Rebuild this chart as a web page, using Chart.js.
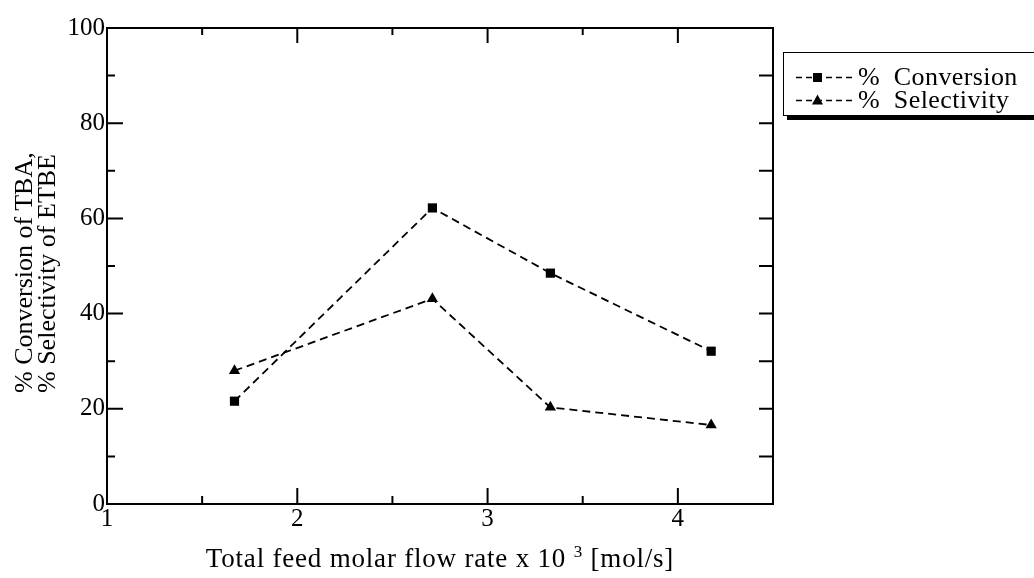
<!DOCTYPE html>
<html><head><meta charset="utf-8">
<script src="https://cdn.jsdelivr.net/npm/chart.js@4"></script>
<style>
html,body{margin:0;padding:0;background:#fff;overflow:hidden;}
#wrap{position:relative;width:1034px;height:578px;overflow:hidden;}
canvas{position:absolute;left:0;top:0;}
.serif{font-family:"Liberation Serif","Times New Roman",serif;color:#000;}
#xt{position:absolute;left:140px;width:600px;top:543px;text-align:center;font-size:27px;line-height:30px;letter-spacing:0.8px;white-space:nowrap;}
#xt sup{font-size:17px;vertical-align:10px;line-height:0;}
#yt{position:absolute;width:300px;height:46px;left:-115px;top:220px;transform:rotate(-90deg);font-size:26px;line-height:23px;text-align:left;white-space:nowrap;}
#legend{position:absolute;left:783px;top:52px;width:300px;height:62px;border:1.5px solid #000;box-shadow:4px 4px 0 #000;background:#fff;}
.row{position:absolute;left:10px;height:24px;display:flex;align-items:center;font-size:26px;letter-spacing:0.4px;white-space:nowrap;}
.row svg{margin-right:4px;}
</style>
</head><body>
<div id="wrap">
<canvas id="c" width="1034" height="578"></canvas>
<div id="yt" class="serif">% Conversion of TBA,<br>% Selectivity of ETBE</div>
<div id="xt" class="serif">Total feed molar flow rate x 10 <sup>3</sup> [mol/s]</div>
<div id="legend" class="serif"></div>
</div>
<script>
// ---- data ----
const xValues = [1.67, 2.71, 3.33, 4.175];
const conversion = [21.6, 62.2, 48.5, 32.1];
const selectivity = [28.0, 43.1, 20.3, 16.6];
const seriesNames = ['% Conversion', '% Selectivity'];
const xTickValues = [1, 2, 3, 4];
const yTickValues = [0, 20, 40, 60, 80, 100];
const xRange = [1, 4.5];
const yRange = [0, 100];

const FONT = '"Liberation Serif","Times New Roman",serif';

function pairs(ys){ return xValues.map((x,i)=>({x:x,y:ys[i]})); }

const datasets = [
  {label: seriesNames[0], data: pairs(conversion), pointStyle:'rect'},
  {label: seriesNames[1], data: pairs(selectivity), pointStyle:'triangle'}
].map(d => Object.assign(d, {
  borderColor:'#000', backgroundColor:'#000', borderWidth:1.8,
  borderDash:[8,5], pointRadius:6.5, pointBorderWidth:0,
  pointBackgroundColor:'#000', tension:0, showLine:true, fill:false
}));

const framePlugin = {
  id:'frame',
  afterDraw(chart){
    const ctx = chart.ctx, a = chart.chartArea;
    const xs = chart.scales.x, ys = chart.scales.y;
    ctx.save();
    ctx.strokeStyle = '#000';
    ctx.lineWidth = 2;
    ctx.strokeRect(a.left, a.top, a.right - a.left, a.bottom - a.top);
    ctx.beginPath();
    for (let v = xRange[0]; v <= xRange[1] + 1e-9; v += 0.5) {
      const px = xs.getPixelForValue(v);
      const major = xTickValues.includes(v);
      const lb = major ? 16 : 8, lt = major ? 15 : 7;
      ctx.moveTo(px, a.bottom); ctx.lineTo(px, a.bottom - lb);
      ctx.moveTo(px, a.top); ctx.lineTo(px, a.top + lt);
    }
    for (let v = yRange[0]; v <= yRange[1] + 1e-9; v += 10) {
      const py = ys.getPixelForValue(v);
      const major = yTickValues.includes(v);
      ctx.moveTo(a.left, py); ctx.lineTo(a.left + (major ? 16 : 8), py);
      ctx.moveTo(a.right, py); ctx.lineTo(a.right - 14, py);
    }
    ctx.stroke();
    ctx.restore();
  }
};

new Chart(document.getElementById('c'), {
  type:'line',
  data:{datasets:datasets},
  options:{
    responsive:false, animation:false, devicePixelRatio:1,
    layout:{padding:{top:28, right:261, left:0, bottom:0}},
    plugins:{legend:{display:false}, tooltip:{enabled:false}},
    scales:{
      x:{type:'linear', min:xRange[0], max:xRange[1],
        afterFit(s){ s.height = 74; },
        grid:{display:false, drawTicks:false}, border:{display:false},
        afterBuildTicks(s){ s.ticks = xTickValues.map(v=>({value:v})); },
        ticks:{color:'#000', font:{family:FONT, size:25}, padding:0, maxRotation:0, autoSkip:false}
      },
      y:{type:'linear', min:yRange[0], max:yRange[1],
        afterFit(s){ s.width = 107; },
        grid:{display:false, drawTicks:false}, border:{display:false},
        afterBuildTicks(s){ s.ticks = yTickValues.map(v=>({value:v})); },
        ticks:{color:'#000', font:{family:FONT, size:25}, padding:2, autoSkip:false}
      }
    }
  },
  plugins:[framePlugin]
});

const lg = document.getElementById('legend');
seriesNames.forEach((name, i) => {
  const row = document.createElement('div');
  row.className = 'row';
  row.style.top = (i === 0 ? 12 : 35) + 'px';
  const marker = i === 0
    ? '<rect x="19" y="6" width="9" height="9" fill="#000"/>'
    : '<polygon points="23.5,4.5 29,14.5 18,14.5" fill="#000"/>';
  row.innerHTML = '<svg width="60" height="21"><line x1="2" y1="10.5" x2="58" y2="10.5" stroke="#000" stroke-width="1.6" stroke-dasharray="6,4"/>' + marker + '</svg><span>' + name.replace(' ', '&nbsp; ') + '</span>';
  lg.appendChild(row);
});
</script>
</body></html>
